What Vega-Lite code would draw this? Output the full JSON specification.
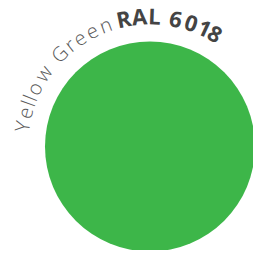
{
  "$schema": "https://vega.github.io/schema/vega-lite/v6.json",
  "width": 206,
  "height": 206,
  "autosize": "none",
  "padding": {"left": 47, "top": 43.5, "right": 0, "bottom": 0},
  "background": "white",
  "config": {"view": {"stroke": null}},
  "datasets": {
    "swatch": [{"colour": "Yellow Green", "code": "RAL 6018", "share": 1}],
    "letters": [
      {"ch": "Y", "deg": -81.0, "part": "name"},
      {"ch": "e", "deg": -74.9, "part": "name"},
      {"ch": "l", "deg": -70.5, "part": "name"},
      {"ch": "l", "deg": -67.9, "part": "name"},
      {"ch": "o", "deg": -63.4, "part": "name"},
      {"ch": "w", "deg": -55.6, "part": "name"},
      {"ch": "G", "deg": -44.3, "part": "name"},
      {"ch": "r", "deg": -38.2, "part": "name"},
      {"ch": "e", "deg": -33.0, "part": "name"},
      {"ch": "e", "deg": -26.7, "part": "name"},
      {"ch": "n", "deg": -20.1, "part": "name"},
      {"ch": "R", "deg": -11.7, "part": "code"},
      {"ch": "A", "deg": -4.7, "part": "code"},
      {"ch": "L", "deg": 2.0, "part": "code"},
      {"ch": "6", "deg": 11.4, "part": "code"},
      {"ch": "0", "deg": 18.5, "part": "code"},
      {"ch": "1", "deg": 24.8, "part": "code"},
      {"ch": "8", "deg": 30.0, "part": "code"}
    ]
  },
  "layer": [
    {
      "data": {"name": "swatch"},
      "mark": {"type": "arc", "outerRadius": 105, "color": "#3DB649"},
      "encoding": {"theta": {"field": "share", "type": "quantitative"}}
    },
    {
      "data": {"name": "letters"},
      "transform": [{"filter": "datum.part === 'name'"}],
      "mark": {"type": "text", "radius": 122, "baseline": "alphabetic", "align": "center", "font": "Open Sans", "fontWeight": 300, "fontSize": 20, "color": "#5a5a5a"},
      "encoding": {
        "theta": {"field": "deg", "type": "quantitative", "scale": {"domain": [0, 360], "range": [0, 6.283185307179586]}},
        "angle": {"field": "deg", "type": "quantitative", "scale": null},
        "text": {"field": "ch", "type": "nominal"}
      }
    },
    {
      "data": {"name": "letters"},
      "transform": [{"filter": "datum.part === 'code'"}],
      "mark": {"type": "text", "radius": 122, "baseline": "alphabetic", "align": "center", "font": "Open Sans", "fontWeight": 700, "fontSize": 22, "color": "#444444"},
      "encoding": {
        "theta": {"field": "deg", "type": "quantitative", "scale": {"domain": [0, 360], "range": [0, 6.283185307179586]}},
        "angle": {"field": "deg", "type": "quantitative", "scale": null},
        "text": {"field": "ch", "type": "nominal"}
      }
    }
  ],
  "resolve": {"scale": {"theta": "independent"}}
}
